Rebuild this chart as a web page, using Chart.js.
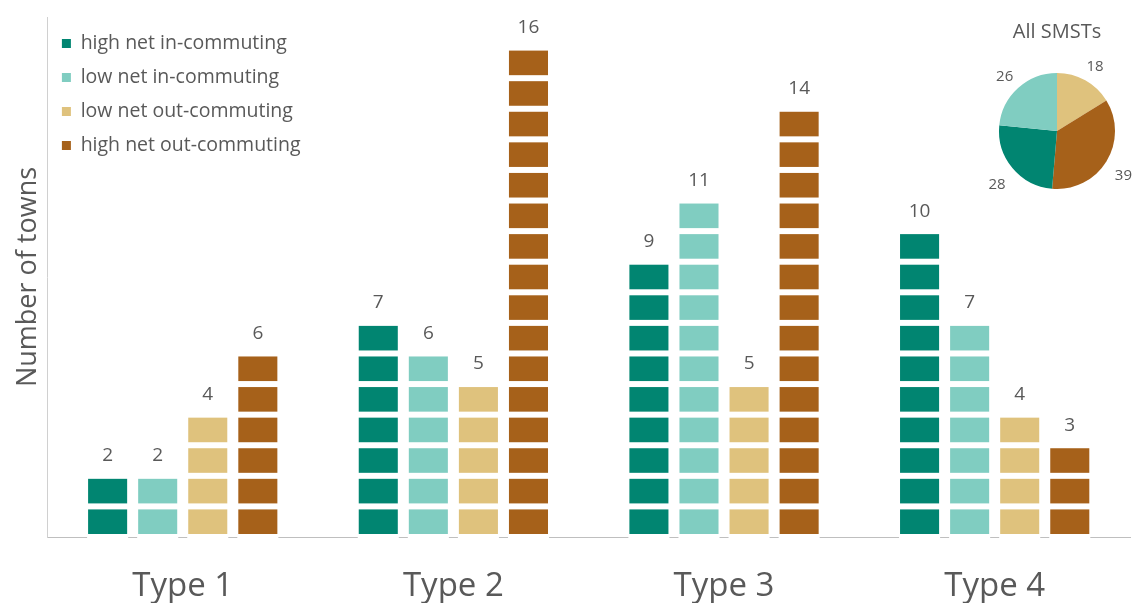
<!DOCTYPE html>
<html>
<head>
<meta charset="utf-8">
<script src="https://cdn.jsdelivr.net/npm/chart.js@4.4.1/dist/chart.umd.min.js"></script>
<style>
  html, body { margin: 0; padding: 0; background: #fff; overflow: hidden; }
  #wrap { position: relative; width: 1137px; height: 603px; }
  #bars { position: absolute; left: 0; top: 0; }
  #pie { position: absolute; left: 977px; top: 0; }
</style>
</head>
<body>
<div id="wrap">
  <canvas id="bars" width="1137" height="603"></canvas>
  <canvas id="pie" width="160" height="210"></canvas>
</div>
<script>
// data
const categories = ['Type 1', 'Type 2', 'Type 3', 'Type 4'];
const seriesNames = ['high net in-commuting', 'low net in-commuting', 'low net out-commuting', 'high net out-commuting'];
const highIn = [2, 7, 9, 10];
const lowIn = [2, 6, 11, 7];
const lowOut = [4, 5, 5, 4];
const highOut = [6, 16, 14, 3];

const pieTitle = 'All SMSTs';
const pieLabels = ['low net out-commuting', 'high net out-commuting', 'high net in-commuting', 'low net in-commuting'];
const pieValues = [18, 39, 28, 26];

const colors = {
    highIn: '#018571',
    lowIn: '#80cdc1',
    lowOut: '#dfc27d',
    highOut: '#a6611a'
};
const textColor = '#595959';
const fontFamily = "'Open Sans', sans-serif";

Chart.defaults.font.family = fontFamily;
Chart.defaults.color = textColor;

// cut each bar into unit blocks and write the value above it
const blockPlugin = {
    id: 'blocks',
    afterDatasetsDraw(chart) {
        const ctx = chart.ctx;
        const y = chart.scales.y;
        const half = 3;
        ctx.save();
        chart.data.datasets.forEach((ds, i) => {
            const meta = chart.getDatasetMeta(i);
            meta.data.forEach((bar, j) => {
                const v = ds.data[j];
                const left = bar.x - bar.width / 2 - 1;
                const w = bar.width + 2;
                ctx.fillStyle = '#fff';
                for (let k = 0; k <= v; k++) {
                    const py = y.getPixelForValue(k);
                    const top = k === v ? py - 1 : py - half;
                    const bottom = k === 0 ? py + 1 : py + half;
                    ctx.fillRect(left, top, w, bottom - top);
                }
                ctx.fillStyle = textColor;
                ctx.font = '19px ' + fontFamily;
                ctx.textAlign = 'center';
                ctx.textBaseline = 'middle';
                ctx.fillText(String(v), bar.x, y.getPixelForValue(v) - 20);
            });
        });
        ctx.restore();
    }
};

new Chart(document.getElementById('bars'), {
    type: 'bar',
    data: {
        labels: categories,
        datasets: [
            { label: seriesNames[0], data: highIn, backgroundColor: colors.highIn },
            { label: seriesNames[1], data: lowIn, backgroundColor: colors.lowIn },
            { label: seriesNames[2], data: lowOut, backgroundColor: colors.lowOut },
            { label: seriesNames[3], data: highOut, backgroundColor: colors.highOut }
        ]
    },
    options: {
        responsive: false,
        animation: false,
        devicePixelRatio: 1,
        categoryPercentage: 0.74,
        barPercentage: 0.78,
        borderWidth: 0,
        layout: { padding: { left: 8, top: 17, right: 7, bottom: 0 } },
        plugins: {
            tooltip: { enabled: false },
            legend: {
                position: 'chartArea',
                align: 'start',
                // empty title only pushes the rows down
                title: { display: true, text: '', font: { size: 1 }, padding: { top: 18, bottom: 0 } },
                labels: {
                    boxWidth: 9,
                    boxHeight: 9,
                    padding: 14.5,
                    color: textColor,
                    font: { size: 19.5 }
                }
            }
        },
        scales: {
            x: {
                z: 1,
                grid: { display: false, drawTicks: false },
                border: { display: true, color: '#bfbfbf' },
                ticks: { color: textColor, font: { size: 33 }, padding: 30 },
                afterFit(scale) { scale.height = 66; }
            },
            y: {
                min: 0,
                max: 17,
                grid: { display: false, drawTicks: false },
                border: { display: true, color: '#d0d0d0' },
                ticks: { display: false },
                title: {
                    display: true,
                    text: 'Number of towns',
                    color: textColor,
                    font: { size: 27 },
                    padding: { top: 4, bottom: 3 }
                }
            }
        }
    },
    plugins: [blockPlugin]
});

// numbers outside the pie slices
const pieLabelPlugin = {
    id: 'pieLabels',
    afterDatasetsDraw(chart) {
        const ctx = chart.ctx;
        const ds = chart.data.datasets[0];
        ctx.save();
        ctx.fillStyle = textColor;
        ctx.font = '15px ' + fontFamily;
        ctx.textAlign = 'center';
        ctx.textBaseline = 'middle';
        chart.getDatasetMeta(0).data.forEach((arc, i) => {
            const p = arc.getProps(['x', 'y', 'startAngle', 'endAngle', 'outerRadius']);
            const mid = (p.startAngle + p.endAngle) / 2;
            const r = p.outerRadius + 20;
            ctx.fillText(String(ds.data[i]), p.x + Math.cos(mid) * r, p.y + Math.sin(mid) * r + 4);
        });
        ctx.restore();
    }
};

new Chart(document.getElementById('pie'), {
    type: 'pie',
    data: {
        labels: pieLabels,
        datasets: [{
            data: pieValues,
            backgroundColor: [colors.lowOut, colors.highOut, colors.highIn, colors.lowIn],
            borderWidth: 0
        }]
    },
    options: {
        responsive: false,
        animation: false,
        devicePixelRatio: 1,
        layout: { padding: { left: 22, right: 22, top: 20, bottom: 21 } },
        plugins: {
            tooltip: { enabled: false },
            legend: { display: false },
            title: {
                display: true,
                text: pieTitle,
                color: textColor,
                font: { size: 20, weight: 'normal' },
                padding: { top: 0, bottom: 29 }
            }
        }
    },
    plugins: [pieLabelPlugin]
});
</script>
</body>
</html>
